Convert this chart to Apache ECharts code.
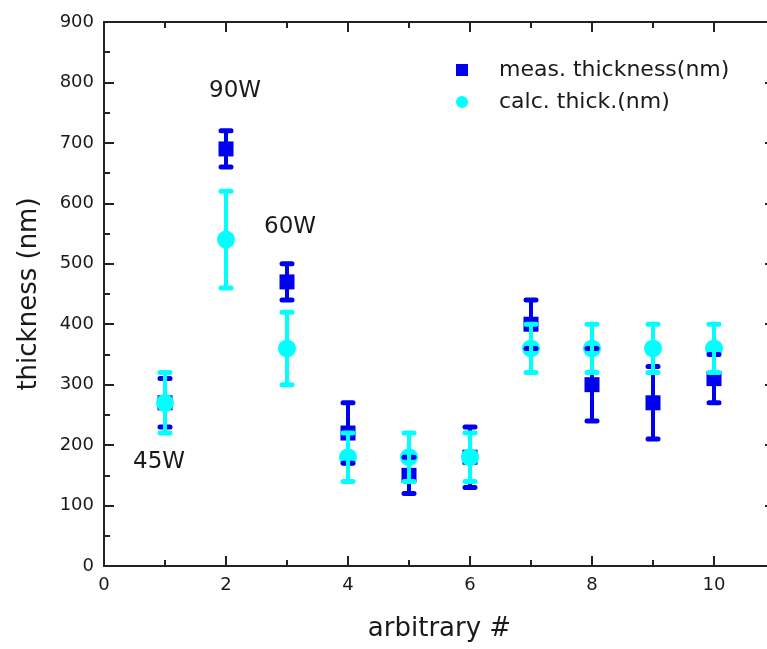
<!DOCTYPE html>
<html><head><meta charset="utf-8">
<script src="https://cdn.jsdelivr.net/npm/echarts@6/dist/echarts.min.js"></script>
<style>html,body{margin:0;padding:0;background:#fff;overflow:hidden}#c{width:767px;height:649px}</style>
</head><body><div id="c"></div>
<script>
const xs = [1, 2, 3, 4, 5, 6, 7, 8, 9, 10];
const measVals = [270, 690, 470, 220, 150, 180, 400, 300, 270, 310];
const measErr  = [40, 30, 30, 50, 30, 50, 40, 60, 60, 40];
const calcVals = [270, 540, 360, 180, 180, 180, 360, 360, 360, 360];
const calcErr  = [50, 80, 60, 40, 40, 40, 40, 40, 40, 40];
const xTicks = [0, 2, 4, 6, 8, 10];
const yTicks = [0, 100, 200, 300, 400, 500, 600, 700, 800, 900];
const labels = ['90W', '60W', '45W'];

const BLUE = '#0000f0', CYAN = '#00ffff';
const FONT = 'DejaVu Sans';
const TXT = '#1a1a1a';

function errRender(color, lw, capW) {
  return function (params, api) {
    const x = api.value(0), lo = api.value(1), hi = api.value(2);
    const a = api.coord([x, lo]), b = api.coord([x, hi]);
    const st = {stroke: color, lineWidth: lw, lineCap: 'round'};
    const cs = {stroke: color, lineWidth: 5, lineCap: 'round'};
    return {type: 'group', children: [
      {type: 'line', shape: {x1: a[0], y1: a[1], x2: b[0], y2: b[1]}, style: st},
      {type: 'line', shape: {x1: a[0] - capW, y1: a[1], x2: a[0] + capW, y2: a[1]}, style: cs},
      {type: 'line', shape: {x1: b[0] - capW, y1: b[1], x2: b[0] + capW, y2: b[1]}, style: cs}
    ]};
  };
}

const measPts = xs.map((x, i) => [x, measVals[i]]);
const calcPts = xs.map((x, i) => [x, calcVals[i]]);
const measE = xs.map((x, i) => [x, measVals[i] - measErr[i], measVals[i] + measErr[i]]);
const calcE = xs.map((x, i) => [x, calcVals[i] - calcErr[i], calcVals[i] + calcErr[i]]);

const axLine = {show: true, onZero: false, lineStyle: {color: '#222', width: 2}};
const tick = {inside: true, length: 10, lineStyle: {color: '#222', width: 2}};
const mtick = {show: true, splitNumber: 2, length: 6, lineStyle: {color: '#222', width: 2}};
const chart = echarts.init(document.getElementById('c'));
chart.setOption({
  animation: false,
  textStyle: {fontFamily: FONT},
  grid: {left: 104, width: 671, top: 22, bottom: 83, outerBoundsMode: 'none', containLabel: false},
  legend: {
    orient: 'vertical', left: 451, top: 54, itemGap: 10, itemWidth: 12, itemHeight: 12,
    textStyle: {fontSize: 22, lineHeight: 22, color: TXT, fontFamily: FONT, padding: [0, 0, 0, 26]},
    data: [{name: 'meas. thickness(nm)', icon: 'rect'}, {name: 'calc. thick.(nm)', icon: 'circle'}]
  },
  xAxis: [{
    type: 'value', min: 0, max: 11, interval: 2, position: 'bottom',
    name: 'arbitrary #', nameLocation: 'middle', nameGap: 50,
    nameTextStyle: {fontSize: 26, color: TXT, fontFamily: FONT},
    axisLine: axLine, axisTick: tick, minorTick: mtick,
    axisLabel: {fontSize: 18, color: TXT, margin: 10, fontFamily: FONT,
      formatter: v => xTicks.includes(v) ? String(v) : ''},
    splitLine: {show: false}
  }, {
    type: 'value', min: 0, max: 11, interval: 2, position: 'top',
    axisLine: axLine, axisTick: tick, minorTick: mtick,
    axisLabel: {show: false}, splitLine: {show: false}
  }],
  yAxis: [{
    type: 'value', min: 0, max: 900, interval: 100, position: 'left',
    name: 'thickness (nm)', nameLocation: 'middle', nameGap: 62, nameRotate: 90,
    nameTextStyle: {fontSize: 26, color: TXT, fontFamily: FONT},
    axisLine: axLine, axisTick: tick, minorTick: mtick,
    axisLabel: {fontSize: 18, color: TXT, margin: 10, fontFamily: FONT,
      formatter: v => yTicks.includes(v) ? String(v) : ''},
    splitLine: {show: false}
  }, {
    type: 'value', min: 0, max: 900, interval: 100, position: 'right',
    axisLine: axLine, axisTick: tick, minorTick: mtick,
    axisLabel: {show: false}, splitLine: {show: false}
  }],
  series: [
    {name: 'meas. thickness(nm)', type: 'scatter', data: measPts, symbol: 'rect', symbolSize: 15,
      itemStyle: {color: BLUE, opacity: 1}, z: 2},
    {name: 'calc. thick.(nm)', type: 'scatter', data: calcPts, symbol: 'circle', symbolSize: 18,
      itemStyle: {color: CYAN, opacity: 1}, z: 3},
    {type: 'custom', renderItem: errRender(BLUE, 4, 5), data: measE, z: 4, silent: true},
    {type: 'custom', renderItem: errRender(CYAN, 4, 5), data: calcE, z: 5, silent: true}
  ],
  graphic: [
    {type: 'text', left: 209, top: 80, style: {text: labels[0], fontSize: 23, fill: TXT, fontFamily: FONT}},
    {type: 'text', left: 264, top: 216, style: {text: labels[1], fontSize: 23, fill: TXT, fontFamily: FONT}},
    {type: 'text', left: 133, top: 451, style: {text: labels[2], fontSize: 23, fill: TXT, fontFamily: FONT}}
  ]
});
</script></body></html>
